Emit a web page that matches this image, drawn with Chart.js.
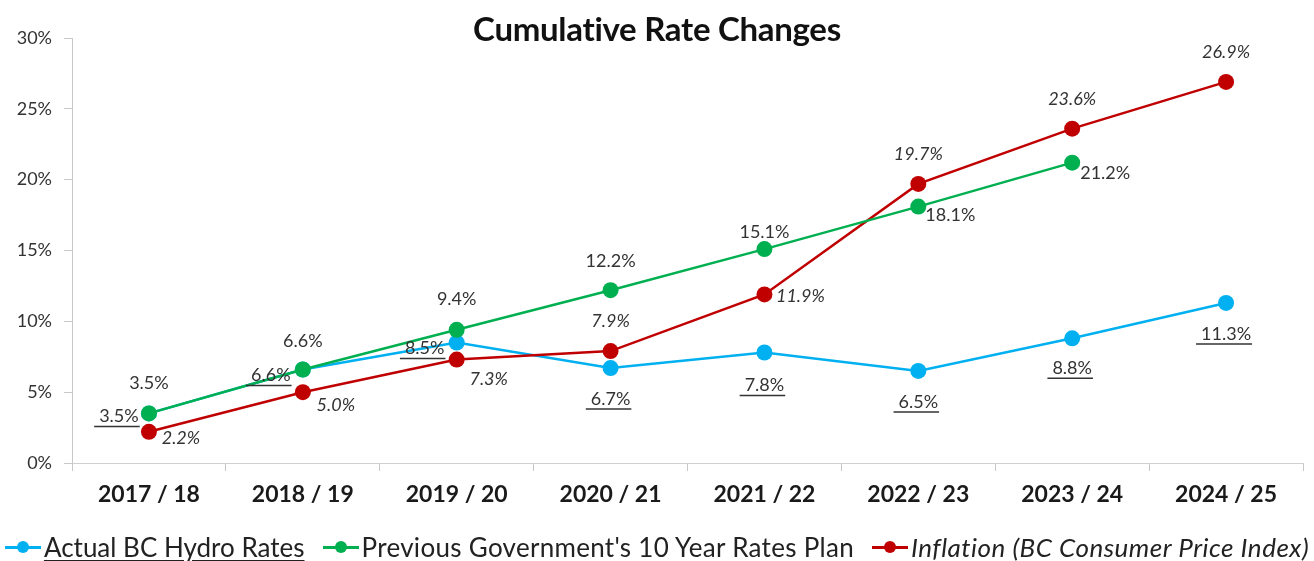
<!DOCTYPE html>
<html>
<head>
<meta charset="utf-8">
<script src="https://cdn.jsdelivr.net/npm/chart.js@4"></script>
<style>
  body { margin: 0; background: #fff; }
  #wrap { position: relative; width: 1314px; height: 561px; }
  #title { position: absolute; left: 0; width: 1314px; top: 8px; text-align: center;
           font: bold 33px Lato, sans-serif; color: #111; letter-spacing: -0.3px; }
  #legend { position: absolute; left: 0; top: 530px; width: 1314px; height: 34px;
            display: flex; justify-content: center; align-items: center;
            font: 26px Lato, sans-serif; color: #222; white-space: nowrap; }
  .item { display: flex; align-items: center; margin: 0 9px; }
  .mark { position: relative; width: 36px; height: 20px; margin-right: 3px; }
  .mark .ln { position: absolute; left: 0; right: 0; top: 9px; height: 3px; }
  .mark .dot { position: absolute; left: 12px; top: 4px; width: 12px; height: 12px; border-radius: 50%; }
</style>
</head>
<body>
<div id="wrap">
  <canvas id="chart" width="1314" height="561"></canvas>
  <div id="title">Cumulative Rate Changes</div>
  <div id="legend"></div>
</div>
<script>
const years = ['2017 / 18', '2018 / 19', '2019 / 20', '2020 / 21', '2021 / 22', '2022 / 23', '2023 / 24', '2024 / 25'];
const actualRates = [3.5, 6.6, 8.5, 6.7, 7.8, 6.5, 8.8, 11.3];
const planRates = [3.5, 6.6, 9.4, 12.2, 15.1, 18.1, 21.2, null];
const inflation = [2.2, 5.0, 7.3, 7.9, 11.9, 19.7, 23.6, 26.9];
const yTicks = [0, 5, 10, 15, 20, 25, 30];

// label offsets from the point, in pixels [dx, dy]
const labelOffsets = [
  [[-30, 3], [-32, 6], [-32, 6], [0, 31], [0, 33], [0, 31], [0, 30], [0, 31]],
  [[0, -30], [0, -28], [0, -31], [0, -29], [0, -17], [32, 9], [33, 11], null],
  [[32, 6], [33, 13], [32, 20], [0, -30], [36, 2], [0, -30], [0, -29], [0, -30]]
];

const blue = '#00B0F0', green = '#00B050', red = '#C00000';

const labelPlugin = {
  id: 'pointLabels',
  afterDatasetsDraw(chart) {
    const ctx = chart.ctx;
    ctx.save();
    chart.data.datasets.forEach((ds, i) => {
      const meta = chart.getDatasetMeta(i);
      meta.data.forEach((pt, j) => {
        const v = ds.data[j];
        if (v == null) return;
        const off = labelOffsets[i][j];
        const txt = v.toFixed(1) + '%';
        ctx.font = (i === 2 ? 'italic ' : '') + '18px Lato, sans-serif';
        ctx.fillStyle = '#333';
        ctx.textAlign = 'center';
        ctx.textBaseline = 'middle';
        const x = pt.x + off[0], y = pt.y + off[1];
        ctx.fillText(txt, x, y);
        if (i === 0) {
          const w = ctx.measureText(txt).width;
          ctx.strokeStyle = '#333';
          ctx.lineWidth = 1.5;
          ctx.beginPath();
          ctx.moveTo(x - w / 2 - 5, y + 10);
          ctx.lineTo(x + w / 2 + 1, y + 10);
          ctx.stroke();
        }
      });
    });
    ctx.restore();
  }
};

function series(label, data, color, order) {
  return {
    label: label, data: data, order: order,
    borderColor: color, backgroundColor: color,
    borderWidth: 2.5, pointRadius: 8, pointHoverRadius: 8,
    pointBorderWidth: 0, tension: 0, spanGaps: false
  };
}

new Chart(document.getElementById('chart'), {
  type: 'line',
  data: {
    labels: years,
    datasets: [
      series('Actual BC Hydro Rates', actualRates, blue, 2),
      series("Previous Government's 10 Year Rates Plan", planRates, green, 0),
      series('Inflation (BC Consumer Price Index)', inflation, red, 1)
    ]
  },
  options: {
    responsive: false,
    animation: false,
    layout: { padding: { top: 38, right: 11, left: 0, bottom: 0 } },
    plugins: { legend: { display: false }, title: { display: false }, tooltip: { enabled: false } },
    scales: {
      x: {
        offset: true,
        grid: { offset: true, drawOnChartArea: false, tickLength: 8, color: '#c8c8c8' },
        border: { color: '#d0d0d0' },
        ticks: { color: '#1a1a1a', font: { family: 'Lato', size: 23, weight: 'bold' }, padding: 10 },
        afterFit(scale) { scale.height = 98; }
      },
      y: {
        min: 0, max: 30,
        afterBuildTicks(scale) { scale.ticks = yTicks.map(v => ({ value: v })); },
        grid: { drawOnChartArea: false, tickLength: 8, color: '#c8c8c8' },
        border: { color: '#c8c8c8' },
        ticks: { color: '#333', font: { family: 'Lato', size: 18 }, padding: 12,
                 callback: v => v + '%' },
        afterFit(scale) { scale.width = 72; }
      }
    }
  },
  plugins: [labelPlugin]
});

const legendItems = [
  { text: 'Actual BC Hydro Rates', color: blue, style: 'text-decoration: underline; text-underline-offset: 3px;' },
  { text: "Previous Government's 10 Year Rates Plan", color: green, style: 'letter-spacing: 0.3px;' },
  { text: 'Inflation (BC Consumer Price Index)', color: red, style: 'font-style: italic; letter-spacing: 0.5px;' }
];
document.getElementById('legend').innerHTML = legendItems.map(it =>
  '<div class="item"><div class="mark"><div class="ln" style="background:' + it.color + '"></div>' +
  '<div class="dot" style="background:' + it.color + '"></div></div>' +
  '<span style="' + it.style + '">' + it.text + '</span></div>').join('');
</script>
</body>
</html>
